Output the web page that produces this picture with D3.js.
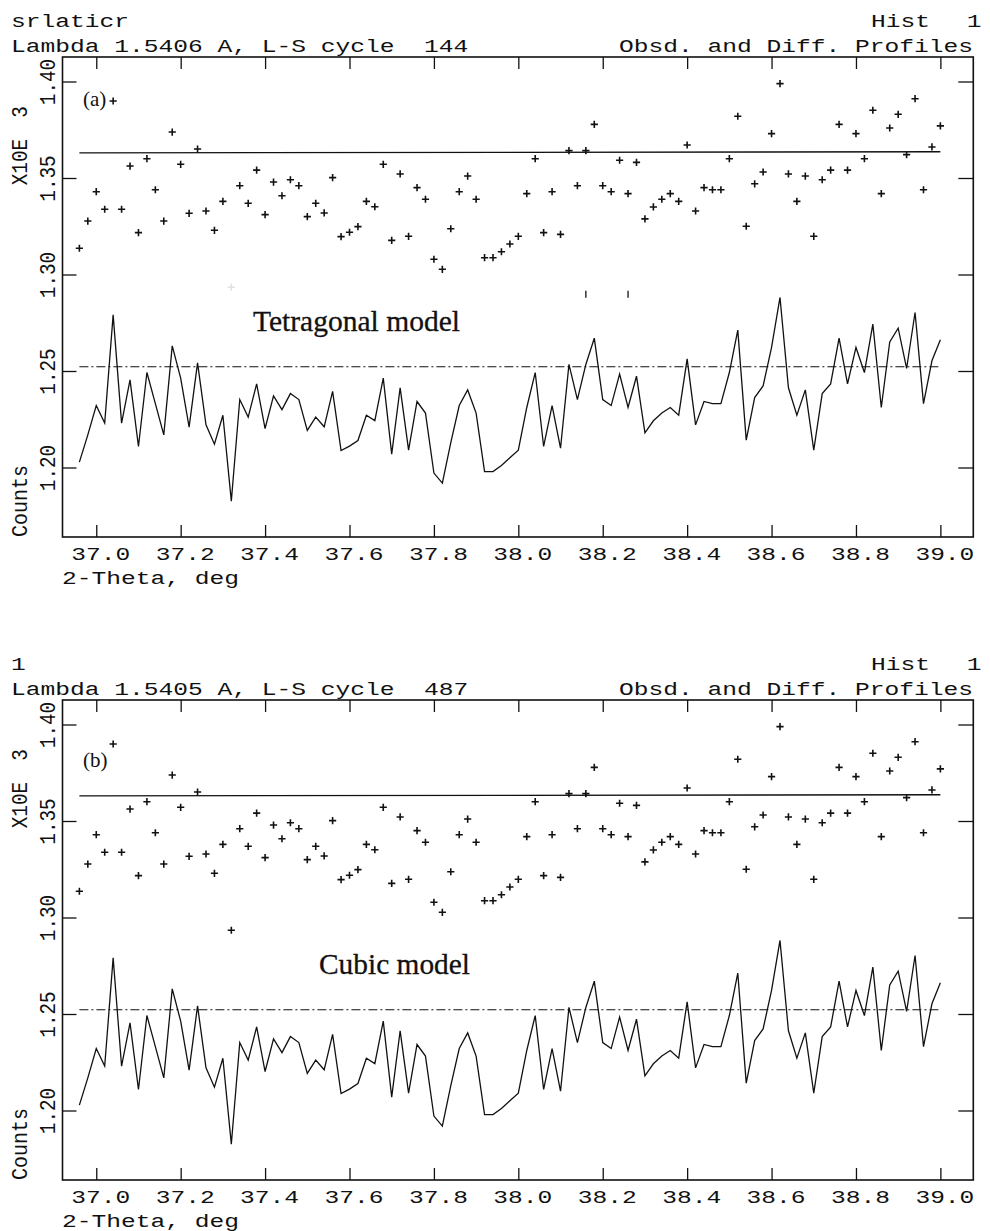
<!DOCTYPE html>
<html>
<head>
<meta charset="utf-8">
<script src="https://cdn.jsdelivr.net/npm/d3@7"></script>
<style>
  body { margin: 0; background: #fff; }
  svg { display: block; }
  .mono { font-family: "Liberation Mono", "Courier New", monospace; fill: #111; white-space: pre; }
  .serif { font-family: "Liberation Serif", "Times New Roman", serif; fill: #111; }
</style>
</head>
<body>
<script>
// 2-theta grid of the profile points
const thetaStart = 36.96;
const thetaStep = 0.02;

// observed counts (x10E3), one per step
const observed = [
  1.3136, 1.3277, 1.3429, 1.3338, 1.3899, 1.3338, 1.3562, 1.3217, 1.3600, 1.3439,
  1.3277, 1.3738, 1.3571, 1.3317, 1.3650, 1.3329, 1.3229, 1.3379, 1.2934, 1.3460,
  1.3369, 1.3541, 1.3310, 1.3479, 1.3408, 1.3491, 1.3460, 1.3300, 1.3369, 1.3319,
  1.3502, 1.3196, 1.3219, 1.3248, 1.3379, 1.3351, 1.3571, 1.3177, 1.3521, 1.3198,
  1.3450, 1.3390, 1.3079, 1.3027, 1.3237, 1.3429, 1.3510, 1.3390, 1.3087, 1.3087,
  1.3118, 1.3158, 1.3198, 1.3419, 1.3600, 1.3217, 1.3429, 1.3208, 1.3642, 1.3460,
  1.3642, 1.3778, 1.3460, 1.3429, 1.3592, 1.3419, 1.3581, 1.3288, 1.3350, 1.3390,
  1.3419, 1.3379, 1.3671, 1.3329, 1.3450, 1.3439, 1.3439, 1.3600, 1.3820, 1.3250,
  1.3470, 1.3531, 1.3730, 1.3989, 1.3521, 1.3379, 1.3510, 1.3198, 1.3491, 1.3541,
  1.3778, 1.3541, 1.3730, 1.3600, 1.3851, 1.3419, 1.3759, 1.3830, 1.3621, 1.3911,
  1.3439, 1.3661, 1.3770
];

// difference curve as plotted (offset around the dash-dot zero line)
const difference = [
  1.2028, 1.2169, 1.2321, 1.2230, 1.2791, 1.2230, 1.2454, 1.2109, 1.2492, 1.2331,
  1.2169, 1.2630, 1.2463, 1.2209, 1.2542, 1.2221, 1.2121, 1.2271, 1.1826, 1.2352,
  1.2261, 1.2433, 1.2202, 1.2371, 1.2300, 1.2383, 1.2352, 1.2192, 1.2261, 1.2211,
  1.2394, 1.2088, 1.2111, 1.2140, 1.2271, 1.2243, 1.2463, 1.2069, 1.2413, 1.2090,
  1.2342, 1.2282, 1.1971, 1.1919, 1.2129, 1.2321, 1.2402, 1.2282, 1.1979, 1.1979,
  1.2010, 1.2050, 1.2090, 1.2311, 1.2492, 1.2109, 1.2321, 1.2100, 1.2534, 1.2352,
  1.2534, 1.2670, 1.2352, 1.2321, 1.2484, 1.2311, 1.2473, 1.2180, 1.2242, 1.2282,
  1.2311, 1.2271, 1.2563, 1.2221, 1.2342, 1.2331, 1.2331, 1.2492, 1.2712, 1.2142,
  1.2362, 1.2423, 1.2622, 1.2881, 1.2413, 1.2271, 1.2402, 1.2090, 1.2383, 1.2433,
  1.2670, 1.2433, 1.2622, 1.2492, 1.2743, 1.2311, 1.2651, 1.2722, 1.2513, 1.2803,
  1.2331, 1.2553, 1.2662
];

// calculated profile (flat background) end points and diff zero line
const calcTheta = [36.96, 39.00];
const calcValue = [1.3630, 1.3636];
const diffZero = 1.2522;

// reflection positions shown in panel (a)
const reflections = [38.16, 38.26];

const xTicks = [37.0, 37.2, 37.4, 37.6, 37.8, 38.0, 38.2, 38.4, 38.6, 38.8, 39.0];
const yTicks = [1.20, 1.25, 1.30, 1.35, 1.40];

const headLeft = ["srlaticr", "1"];
const lambdaText = ["Lambda 1.5406 A, L-S cycle  144", "Lambda 1.5405 A, L-S cycle  487"];
const panelTags = ["(a)", "(b)"];
const modelNames = ["Tetragonal model", "Cubic model"];
const hiddenPoints = [[18], []];

const width = 990;
const height = 1231;
const frame = {left: 62.5, right: 973.3, top: 57, bottom: 537};
const panelShift = [0, 643];
const tagY = [106, 124];
const modelX = [253, 319];
const modelLen = [207, 151];
const chH = 14.75;  // stretched char pitch, horizontal text
const chV = 11.6;   // char pitch, rotated text

const svg = d3.select("body").append("svg")
  .attr("width", width).attr("height", height);

const x = d3.scaleLinear()
  .domain([36.92, 39.078])
  .range([frame.left, frame.right]);

const pts = observed.map((v, i) => ({t: thetaStart + i * thetaStep, obs: v, diff: difference[i], i}));

function monoText(g, str, px, py, opt = {}) {
  const t = g.append("text").attr("class", "mono")
    .attr("xml:space", "preserve")
    .attr("font-size", opt.size || 18)
    .attr("text-anchor", opt.anchor || "start")
    .attr("lengthAdjust", "spacingAndGlyphs")
    .attr("textLength", opt.len || str.length * chH)
    .text(str);
  if (opt.rotate) {
    t.attr("transform", `translate(${px},${py}) rotate(-90)`);
  } else {
    t.attr("x", px).attr("y", py);
  }
  return t;
}

function drawPanel(p) {
  const off = panelShift[p];
  const g = svg.append("g");
  const y = d3.scaleLinear()
    .domain([1.20, 1.40])
    .range([467.5 + off, 81.5 + off]);
  const top = frame.top + off, bottom = frame.bottom + off;

  // header lines
  monoText(g, headLeft[p], 11, 27 + off);
  monoText(g, "Hist", 871, 27 + off);
  monoText(g, "1", 974, 27 + off, {anchor: "middle"});
  monoText(g, lambdaText[p], 11, 52 + off);
  monoText(g, "Obsd. and Diff. Profiles", 619, 52 + off);

  // frame
  g.append("rect")
    .attr("x", frame.left).attr("y", top)
    .attr("width", frame.right - frame.left).attr("height", bottom - top)
    .attr("fill", "none").attr("stroke", "#111").attr("stroke-width", 1.6);

  // axes with inward ticks
  const bx = g.append("g").attr("transform", `translate(0,${bottom})`)
    .call(d3.axisBottom(x).tickValues(xTicks).tickSize(-12).tickFormat(d3.format(".1f")));
  const tx = g.append("g").attr("transform", `translate(0,${top})`)
    .call(d3.axisTop(x).tickValues(xTicks).tickSize(-12).tickFormat(""));
  const ly = g.append("g").attr("transform", `translate(${frame.left},0)`)
    .call(d3.axisLeft(y).tickValues(yTicks).tickSize(-14).tickFormat(d3.format(".2f")));
  const ry = g.append("g").attr("transform", `translate(${frame.right},0)`)
    .call(d3.axisRight(y).tickValues(yTicks).tickSize(-15).tickFormat(""));
  [bx, tx, ly, ry].forEach(a => {
    a.select(".domain").remove();
    a.selectAll(".tick line").attr("stroke", "#111").attr("stroke-width", 1.3);
  });
  bx.selectAll(".tick text")
    .attr("class", "mono").attr("font-size", 18).attr("fill", "#111")
    .attr("x", 4).attr("y", 23).attr("dy", 0)
    .attr("text-anchor", "middle")
    .attr("lengthAdjust", "spacingAndGlyphs")
    .attr("textLength", 4 * chH);
  ly.selectAll(".tick text")
    .attr("class", "mono").attr("font-size", 22).attr("fill", "#111")
    .attr("x", 0).attr("y", 0).attr("dy", 0)
    .attr("text-anchor", "middle")
    .attr("transform", "translate(-7.5,0) rotate(-90)")
    .attr("lengthAdjust", "spacingAndGlyphs")
    .attr("textLength", 4 * chV);
  bx.attr("font-family", null).attr("font-size", null);
  ly.attr("font-family", null).attr("font-size", null);

  // axis titles
  monoText(g, "2-Theta, deg", 62, 583.5 + off);
  monoText(g, "Counts", 27, 537 + off, {rotate: true, size: 22, len: 6 * 12});
  monoText(g, "X10E", 27, 185.3 + off, {rotate: true, size: 22, len: 4 * chV});
  monoText(g, "3", 27, 112 + off, {rotate: true, size: 22, len: chV, anchor: "middle"});

  // calculated profile
  g.append("line")
    .attr("x1", x(calcTheta[0])).attr("x2", x(calcTheta[1]))
    .attr("y1", y(calcValue[0])).attr("y2", y(calcValue[1]))
    .attr("stroke", "#111").attr("stroke-width", 1.3);

  // zero line for difference
  g.append("line")
    .attr("x1", x(calcTheta[0])).attr("x2", x(calcTheta[1]))
    .attr("y1", y(diffZero)).attr("y2", y(diffZero))
    .attr("stroke", "#111").attr("stroke-width", 1.1)
    .attr("stroke-dasharray", "9,3,2,3");

  // difference curve
  const line = d3.line().x(d => x(d.t)).y(d => y(d.diff));
  g.append("path").datum(pts)
    .attr("d", line)
    .attr("fill", "none").attr("stroke", "#111")
    .attr("stroke-width", 1.3).attr("stroke-linejoin", "miter");

  // observed points
  g.selectAll(".obs").data(pts).join("path")
    .attr("class", "obs")
    .attr("transform", d => `translate(${x(d.t)},${y(d.obs)})`)
    .attr("d", "M-3.6,0H3.6M0,-3.6V3.6")
    .attr("stroke", "#111").attr("stroke-width", 1.6)
    .attr("opacity", d => hiddenPoints[p].includes(d.i) ? 0.12 : 1);

  // reflection markers
  if (p === 0) {
    g.selectAll(".refl").data(reflections).join("line")
      .attr("x1", d => x(d)).attr("x2", d => x(d))
      .attr("y1", y(1.2916)).attr("y2", y(1.2880))
      .attr("stroke", "#111").attr("stroke-width", 1.3);
  }

  // annotations
  g.append("text").attr("class", "serif")
    .attr("x", 83).attr("y", tagY[p] + off)
    .attr("font-size", 21)
    .text(panelTags[p]);
  g.append("text").attr("class", "serif")
    .attr("x", modelX[p]).attr("y", 330.7 + off)
    .attr("font-size", 30)
    .attr("lengthAdjust", "spacingAndGlyphs")
    .attr("textLength", modelLen[p])
    .attr("stroke", "#111").attr("stroke-width", 0.3)
    .text(modelNames[p]);
}

drawPanel(0);
drawPanel(1);
</script>
</body>
</html>
